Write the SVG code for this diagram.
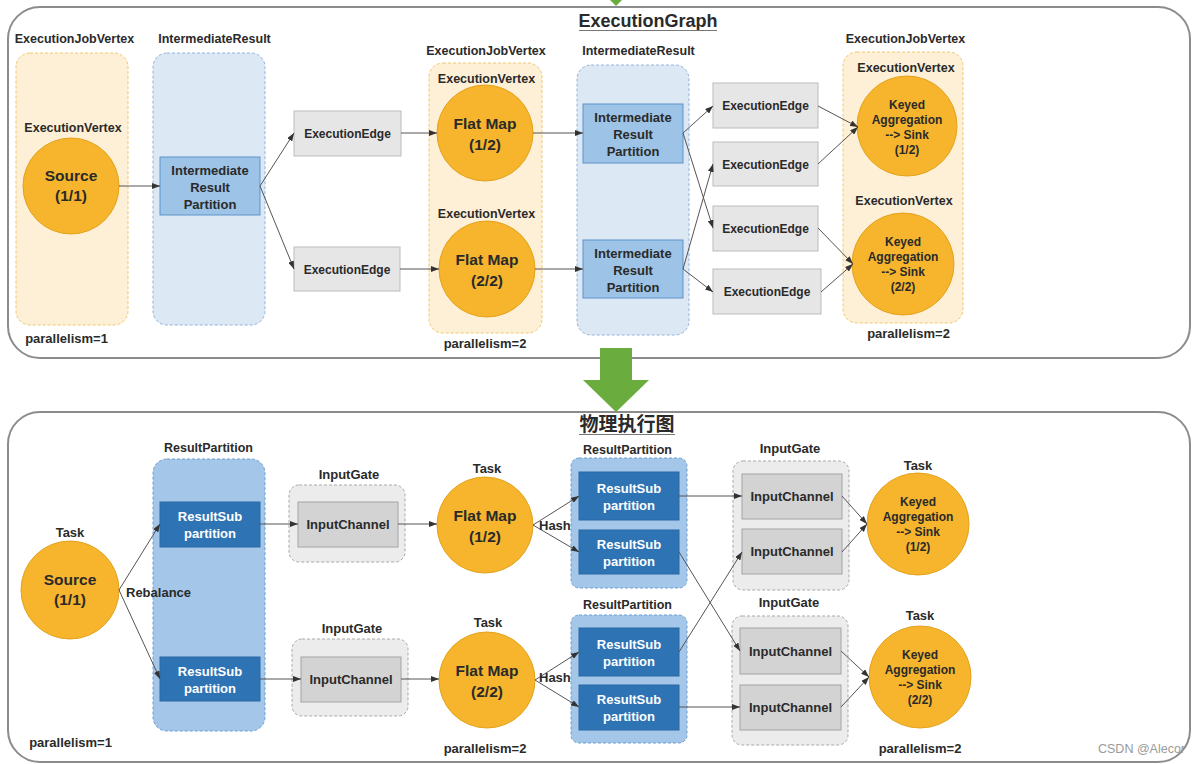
<svg xmlns="http://www.w3.org/2000/svg" width="1200" height="764" viewBox="0 0 1200 764">
<defs>
<style>
text{font-family:"Liberation Sans",Arial,"Noto Sans CJK SC",sans-serif;font-weight:bold;fill:#2a2a2a;text-anchor:middle}
.lbl{font-size:12.5px}
.lbl13{font-size:13px}
.ct{font-size:15.5px}
.kt{font-size:12px}
.bt{font-size:13px}
.wt{font-size:13px;fill:#ffffff}
.frame{fill:#ffffff;stroke:#8c8c8c;stroke-width:2}
.yel{fill:#fdf0d6;stroke:#efc86e;stroke-width:1;stroke-dasharray:3 2}
.blu1{fill:#dde8f5;stroke:#93b4da;stroke-width:1;stroke-dasharray:3 2}
.blu2{fill:#a3c6e9;stroke:#6f9fd4;stroke-width:1;stroke-dasharray:3 2}
.gate{fill:#ececec;stroke:#a9a9a9;stroke-width:1;stroke-dasharray:3 2}
.circ{fill:#f6b52c;stroke:#e3a21c;stroke-width:1}
.irp{fill:#9dc3e6;stroke:#5f93c8;stroke-width:1}
.ee{fill:#e6e6e6;stroke:#bcbcbc;stroke-width:1}
.ic{fill:#d3d3d3;stroke:#a4a4a4;stroke-width:1}
.rsp{fill:#2e74b5;stroke:#2a68a3;stroke-width:1}
.cn line{stroke:#555555;stroke-width:1;marker-end:url(#ah)}
.green{fill:#6aac3e}
</style>
<marker id="ah" markerWidth="8" markerHeight="6" refX="8" refY="3" orient="auto" markerUnits="userSpaceOnUse">
<path d="M0,0 L8,3 L0,6 z" fill="#333333"/>
</marker>
</defs>

<!-- frames -->
<g id="frame-top"><rect class="frame" x="8" y="7" width="1182" height="351" rx="32"/></g>
<g id="frame-bottom"><rect class="frame" x="8" y="412" width="1182" height="350" rx="32"/></g>

<!-- titles -->
<g id="title-top">
<text x="648" y="27" style="font-size:18px">ExecutionGraph</text>
<line x1="579" y1="30.5" x2="717" y2="30.5" stroke="#777" stroke-width="1"/>
</g>
<g id="title-bottom">
<text x="627" y="431" style="font-size:19px">物理执行图</text>
<line x1="579" y1="434.5" x2="675" y2="434.5" stroke="#777" stroke-width="1"/>
</g>

<!-- top panel containers -->
<g id="jv1"><rect class="yel" x="16" y="53" width="112" height="272" rx="14"/>
<text class="lbl" x="74.5" y="43">ExecutionJobVertex</text>
<text class="lbl" x="73" y="132">ExecutionVertex</text>
<text class="lbl13" x="66.5" y="343">parallelism=1</text></g>
<g id="ir1"><rect class="blu1" x="153" y="53" width="112" height="272" rx="14"/>
<text class="lbl" x="214.5" y="43">IntermediateResult</text></g>
<g id="jv2"><rect class="yel" x="429" y="63" width="113" height="270" rx="14"/>
<text class="lbl" x="486" y="55">ExecutionJobVertex</text>
<text class="lbl" x="486.5" y="83">ExecutionVertex</text>
<text class="lbl" x="486.5" y="218">ExecutionVertex</text>
<text class="lbl13" x="485" y="348">parallelism=2</text></g>
<g id="ir2"><rect class="blu1" x="577" y="65" width="112" height="270" rx="14"/>
<text class="lbl" x="638.5" y="55">IntermediateResult</text></g>
<g id="jv3"><rect class="yel" x="843" y="52" width="120" height="271" rx="14"/>
<text class="lbl" x="905.5" y="43">ExecutionJobVertex</text>
<text class="lbl" x="906" y="72">ExecutionVertex</text>
<text class="lbl" x="904" y="205">ExecutionVertex</text>
<text class="lbl13" x="908.5" y="338">parallelism=2</text></g>

<!-- top panel nodes -->
<g id="t-source"><circle class="circ" cx="71" cy="186" r="48"/>
<text class="ct" x="71" y="181">Source</text><text class="ct" x="71" y="201">(1/1)</text></g>
<g id="t-irp1"><rect class="irp" x="160" y="157" width="100" height="58"/>
<text class="bt" x="210" y="175">Intermediate</text><text class="bt" x="210" y="192">Result</text><text class="bt" x="210" y="209">Partition</text></g>
<g id="t-ee-a"><rect class="ee" x="294" y="111" width="107" height="45"/><text class="kt" x="347.5" y="138">ExecutionEdge</text></g>
<g id="t-ee-b"><rect class="ee" x="294" y="247" width="106" height="44"/><text class="kt" x="347" y="273.5">ExecutionEdge</text></g>
<g id="t-fm1"><circle class="circ" cx="485" cy="133" r="48"/>
<text class="ct" x="485" y="129">Flat Map</text><text class="ct" x="485" y="150">(1/2)</text></g>
<g id="t-fm2"><circle class="circ" cx="487" cy="269" r="48"/>
<text class="ct" x="487" y="265">Flat Map</text><text class="ct" x="487" y="286">(2/2)</text></g>
<g id="t-irp2"><rect class="irp" x="583" y="104" width="100" height="59"/>
<text class="bt" x="633" y="122">Intermediate</text><text class="bt" x="633" y="139">Result</text><text class="bt" x="633" y="156">Partition</text></g>
<g id="t-irp3"><rect class="irp" x="583" y="240" width="100" height="58"/>
<text class="bt" x="633" y="258">Intermediate</text><text class="bt" x="633" y="275">Result</text><text class="bt" x="633" y="292">Partition</text></g>
<g id="t-ee1"><rect class="ee" x="713" y="83" width="105" height="45"/><text class="kt" x="765.5" y="110">ExecutionEdge</text></g>
<g id="t-ee2"><rect class="ee" x="713" y="142" width="105" height="44"/><text class="kt" x="765.5" y="168.5">ExecutionEdge</text></g>
<g id="t-ee3"><rect class="ee" x="713" y="206" width="105" height="45"/><text class="kt" x="765.5" y="233">ExecutionEdge</text></g>
<g id="t-ee4"><rect class="ee" x="713" y="269" width="108" height="45"/><text class="kt" x="767" y="296">ExecutionEdge</text></g>
<g id="t-k1"><circle class="circ" cx="907" cy="126" r="50"/>
<text class="kt" x="907" y="109">Keyed</text><text class="kt" x="907" y="124">Aggregation</text><text class="kt" x="907" y="139">--&gt; Sink</text><text class="kt" x="907" y="154">(1/2)</text></g>
<g id="t-k2"><circle class="circ" cx="903" cy="264" r="51"/>
<text class="kt" x="903" y="246">Keyed</text><text class="kt" x="903" y="261">Aggregation</text><text class="kt" x="903" y="276">--&gt; Sink</text><text class="kt" x="903" y="291">(2/2)</text></g>

<!-- bottom panel containers -->
<g id="rp1"><rect class="blu2" x="153" y="459" width="112" height="272" rx="14"/>
<text class="lbl" x="208.5" y="452">ResultPartition</text></g>
<g id="ig1"><rect class="gate" x="289" y="485" width="116" height="77" rx="10"/>
<text class="lbl13" x="349" y="479">InputGate</text></g>
<g id="ig2"><rect class="gate" x="292" y="639" width="116" height="77" rx="10"/>
<text class="lbl13" x="352" y="633">InputGate</text></g>
<g id="rp2"><rect class="blu2" x="571" y="458" width="116" height="130" rx="8"/>
<text class="lbl" x="627.5" y="454">ResultPartition</text></g>
<g id="rp3"><rect class="blu2" x="571" y="615" width="116" height="128" rx="8"/>
<text class="lbl" x="627.5" y="609">ResultPartition</text></g>
<g id="ig3"><rect class="gate" x="733" y="461" width="116" height="129" rx="10"/>
<text class="lbl13" x="790" y="453">InputGate</text></g>
<g id="ig4"><rect class="gate" x="732" y="616" width="116" height="129" rx="10"/>
<text class="lbl13" x="789" y="607">InputGate</text></g>

<!-- bottom panel nodes -->
<g id="b-source"><text class="lbl13" x="70" y="537">Task</text><circle class="circ" cx="70" cy="590" r="49"/>
<text class="ct" x="70" y="585">Source</text><text class="ct" x="70" y="605">(1/1)</text></g>
<g id="b-rsp1a"><rect class="rsp" x="160" y="502" width="100" height="45"/>
<text class="wt" x="210" y="521">ResultSub</text><text class="wt" x="210" y="538">partition</text></g>
<g id="b-rsp1b"><rect class="rsp" x="160" y="657" width="100" height="44"/>
<text class="wt" x="210" y="676">ResultSub</text><text class="wt" x="210" y="693">partition</text></g>
<g id="b-ic1"><rect class="ic" x="298" y="502" width="100" height="45"/><text class="bt" x="348" y="529">InputChannel</text></g>
<g id="b-ic2"><rect class="ic" x="301" y="657" width="100" height="45"/><text class="bt" x="351" y="684">InputChannel</text></g>
<g id="b-fm1"><text class="lbl13" x="487" y="473">Task</text><circle class="circ" cx="485" cy="525" r="48"/>
<text class="ct" x="485" y="521">Flat Map</text><text class="ct" x="485" y="542">(1/2)</text></g>
<g id="b-fm2"><text class="lbl13" x="488" y="627">Task</text><circle class="circ" cx="487" cy="680" r="48"/>
<text class="ct" x="487" y="676">Flat Map</text><text class="ct" x="487" y="697">(2/2)</text></g>
<g id="b-rsp2a"><rect class="rsp" x="579" y="472" width="100" height="48"/>
<text class="wt" x="629" y="493">ResultSub</text><text class="wt" x="629" y="510">partition</text></g>
<g id="b-rsp2b"><rect class="rsp" x="579" y="530" width="100" height="44"/>
<text class="wt" x="629" y="549">ResultSub</text><text class="wt" x="629" y="566">partition</text></g>
<g id="b-rsp3a"><rect class="rsp" x="579" y="628" width="100" height="48"/>
<text class="wt" x="629" y="649">ResultSub</text><text class="wt" x="629" y="666">partition</text></g>
<g id="b-rsp3b"><rect class="rsp" x="579" y="685" width="100" height="45"/>
<text class="wt" x="629" y="704">ResultSub</text><text class="wt" x="629" y="721">partition</text></g>
<g id="b-ica"><rect class="ic" x="742" y="474" width="100" height="45"/><text class="bt" x="792" y="501">InputChannel</text></g>
<g id="b-icb"><rect class="ic" x="742" y="529" width="100" height="45"/><text class="bt" x="792" y="556">InputChannel</text></g>
<g id="b-icc"><rect class="ic" x="740" y="628" width="101" height="46"/><text class="bt" x="790.5" y="655.5">InputChannel</text></g>
<g id="b-icd"><rect class="ic" x="740" y="685" width="101" height="45"/><text class="bt" x="790.5" y="712">InputChannel</text></g>
<g id="b-k1"><text class="lbl13" x="918" y="470">Task</text><circle class="circ" cx="918" cy="524" r="51"/>
<text class="kt" x="918" y="506">Keyed</text><text class="kt" x="918" y="521">Aggregation</text><text class="kt" x="918" y="536">--&gt; Sink</text><text class="kt" x="918" y="551">(1/2)</text></g>
<g id="b-k2"><text class="lbl13" x="920" y="620">Task</text><circle class="circ" cx="920" cy="677" r="51"/>
<text class="kt" x="920" y="659">Keyed</text><text class="kt" x="920" y="674">Aggregation</text><text class="kt" x="920" y="689">--&gt; Sink</text><text class="kt" x="920" y="704">(2/2)</text></g>
<g id="b-labels">
<text class="lbl13" x="70.5" y="747">parallelism=1</text>
<text class="lbl13" x="485" y="753">parallelism=2</text>
<text class="lbl13" x="920" y="753">parallelism=2</text>
</g>

<!-- connectors -->
<g id="connectors" class="cn">
<line x1="119" y1="186" x2="160" y2="186"/>
<line x1="260" y1="186" x2="294" y2="133"/>
<line x1="260" y1="186" x2="294" y2="269"/>
<line x1="401" y1="133" x2="437" y2="133"/>
<line x1="400" y1="269" x2="439" y2="269"/>
<line x1="533" y1="133" x2="583" y2="133"/>
<line x1="535" y1="269" x2="583" y2="269"/>
<line x1="683" y1="133" x2="713" y2="106"/>
<line x1="683" y1="133" x2="713" y2="228"/>
<line x1="683" y1="269" x2="713" y2="164"/>
<line x1="683" y1="269" x2="713" y2="292"/>
<line x1="818" y1="106" x2="858" y2="127"/>
<line x1="818" y1="164" x2="858" y2="127"/>
<line x1="818" y1="228" x2="853" y2="264"/>
<line x1="821" y1="292" x2="853" y2="264"/>

<line x1="119" y1="590" x2="160" y2="524"/>
<line x1="119" y1="590" x2="160" y2="679"/>
<line x1="260" y1="524" x2="298" y2="524"/>
<line x1="260" y1="679" x2="301" y2="679"/>
<line x1="398" y1="524" x2="437" y2="524"/>
<line x1="401" y1="679" x2="439" y2="679"/>
<line x1="533" y1="525" x2="579" y2="496"/>
<line x1="533" y1="525" x2="579" y2="552"/>
<line x1="535" y1="680" x2="579" y2="652"/>
<line x1="535" y1="680" x2="579" y2="707"/>
<line x1="679" y1="496" x2="742" y2="496"/>
<line x1="679" y1="552" x2="740" y2="651"/>
<line x1="679" y1="652" x2="742" y2="552"/>
<line x1="679" y1="707" x2="740" y2="707"/>
<line x1="842" y1="496" x2="867" y2="524"/>
<line x1="842" y1="552" x2="867" y2="524"/>
<line x1="841" y1="651" x2="869" y2="677"/>
<line x1="841" y1="707" x2="869" y2="677"/>
</g>

<g id="edge-labels">
<text class="lbl13" x="126" y="597" style="text-anchor:start">Rebalance</text>
<text class="lbl13" x="539" y="530" style="text-anchor:start">Hash</text>
<text class="lbl13" x="539" y="682" style="text-anchor:start">Hash</text>
</g>

<!-- green arrows -->
<g id="green-arrows">
<polygon class="green" points="584,-26 648,-26 616,6"/>
<polygon class="green" points="600,348 632,348 632,380 649,380 616,412 583,380 600,380"/>
</g>

<text x="1185" y="753" style="font-size:12.5px;font-weight:normal;fill:#9a9a9a;text-anchor:end">CSDN @Alecor</text>
</svg>
